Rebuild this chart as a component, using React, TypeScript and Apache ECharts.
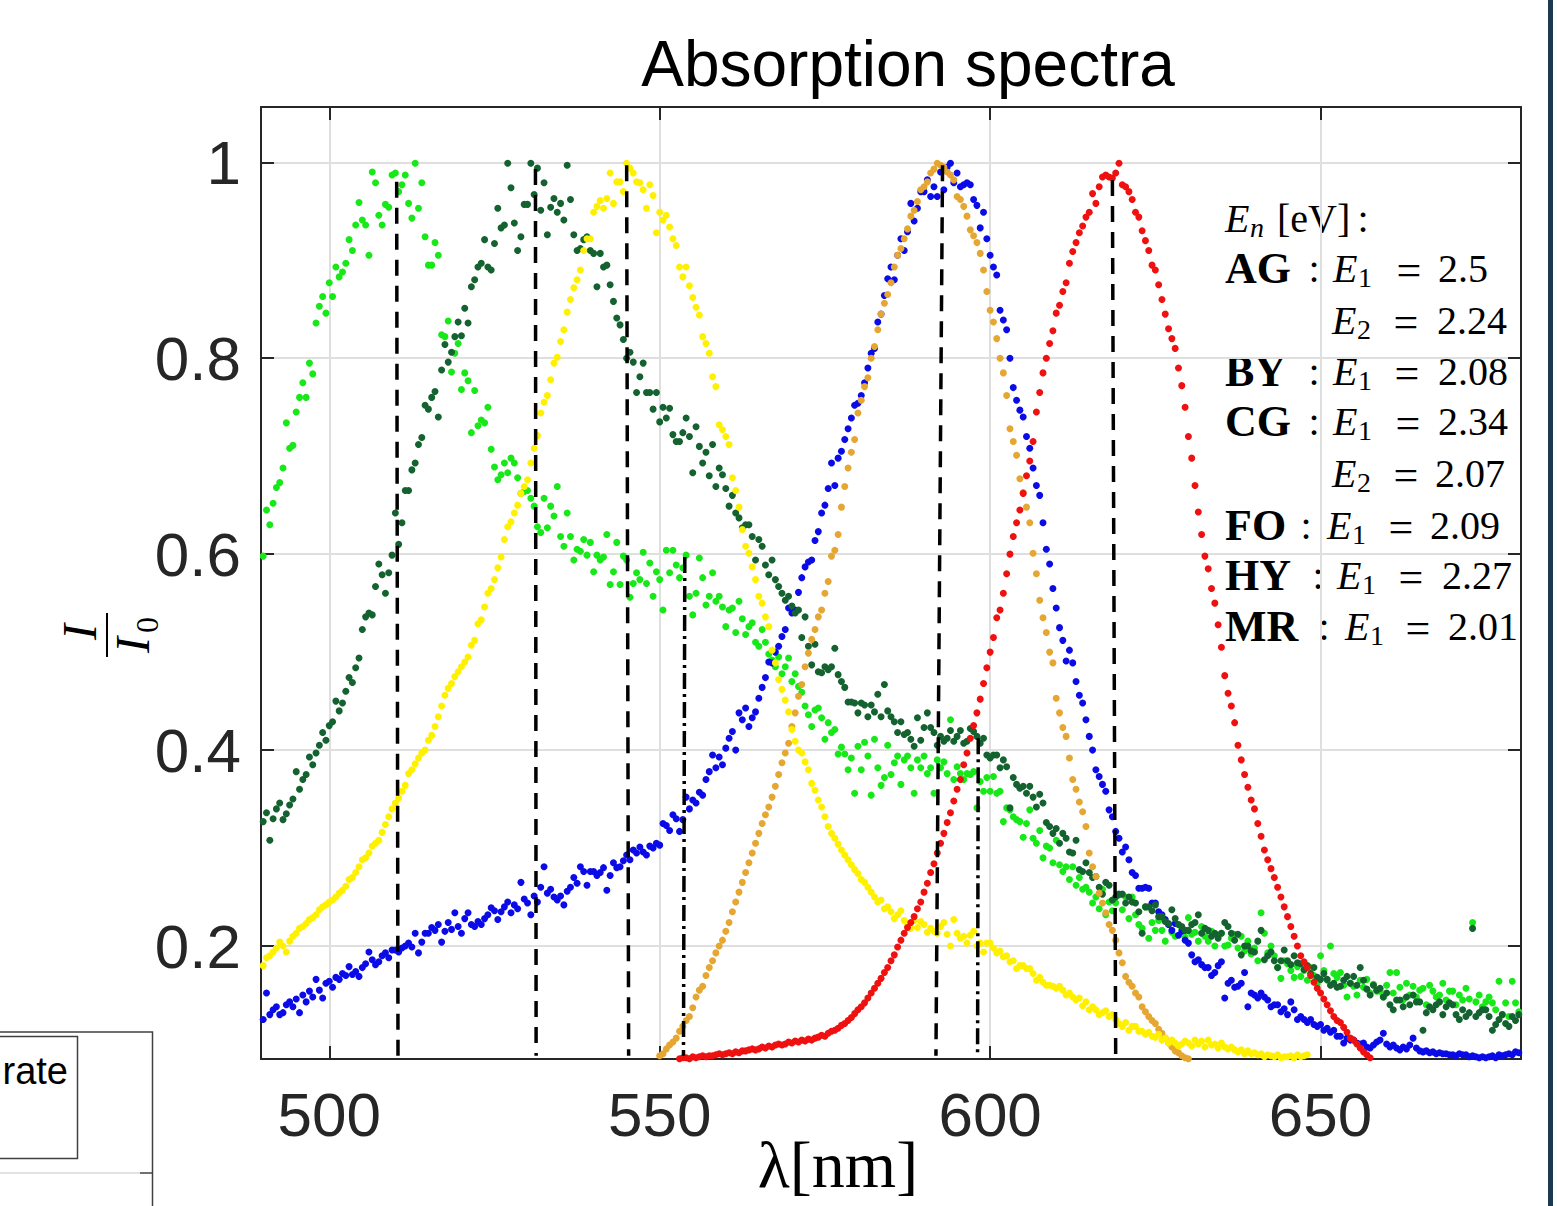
import React, { useEffect, useRef } from 'react';
import * as echarts from 'echarts';

// ---------------- data (wavelength step 0.5 nm) ----------------
const STEP = 0.5;

const AG_START = 490;
const AG = [
  0.598, 0.645, 0.63, 0.652, 0.668, 0.673, 0.688, 0.734, 0.708, 0.711,
  0.745, 0.76, 0.775, 0.76, 0.795, 0.784, 0.836, 0.853, 0.863, 0.846,
  0.877, 0.863, 0.893, 0.883, 0.888, 0.897, 0.921, 0.91, 0.936, 0.959,
  0.941, 0.936, 0.905, 0.99, 0.979, 0.946, 0.936, 0.957, 0.954, 0.987,
  0.989, 0.97, 0.977, 0.987, 0.958, 0.943, 0.999, 0.953, 0.979, 0.924,
  0.895, 0.895, 0.918, 0.905, 0.824, 0.822, 0.838, 0.786, 0.805, 0.815,
  0.768, 0.785, 0.777, 0.724, 0.767, 0.731, 0.737, 0.734, 0.75, 0.707,
  0.689, 0.676, 0.681, 0.693, 0.683, 0.698, 0.693, 0.678, 0.662, 0.664,
  0.665, 0.657, 0.649, 0.628, 0.622, 0.657, 0.627, 0.649, 0.639, 0.669,
  0.618, 0.608, 0.642, 0.618, 0.594, 0.605, 0.603, 0.615, 0.599, 0.612,
  0.582, 0.599, 0.594, 0.597, 0.62, 0.569, 0.582, 0.612, 0.569, 0.598,
  0.594, 0.556, 0.57, 0.581, 0.574, 0.602, 0.57, 0.591, 0.557, 0.582,
  0.574, 0.543, 0.604, 0.581, 0.604, 0.589, 0.576, 0.586, 0.599, 0.557,
  0.538, 0.56, 0.596, 0.576, 0.548, 0.557, 0.581, 0.552, 0.557, 0.546,
  0.526, 0.543, 0.545, 0.52, 0.552, 0.534, 0.518, 0.526, 0.53, 0.51,
  0.506, 0.523, 0.51, 0.498, 0.492, 0.485, 0.495, 0.478, 0.485, 0.494,
  0.47, 0.478, 0.465, 0.459, 0.445, 0.436, 0.424, 0.441, 0.443, 0.433,
  0.411, 0.428, 0.418, 0.421, 0.396, 0.403, 0.396, 0.38, 0.392, 0.356,
  0.404, 0.38, 0.408, 0.394, 0.354, 0.411, 0.382, 0.364, 0.372, 0.405,
  0.375, 0.387, 0.394, 0.365, 0.39, 0.394, 0.382, 0.356, 0.39, 0.382,
  0.394, 0.376, 0.382, 0.356, 0.39, 0.382, 0.388, 0.376, 0.431, 0.37,
  0.383, 0.376, 0.37, 0.376, 0.375, 0.378, 0.341, 0.368, 0.358, 0.372,
  0.358, 0.373, 0.356, 0.358, 0.327, 0.341, 0.339, 0.332, 0.329, 0.327,
  0.311, 0.325, 0.339, 0.31, 0.305, 0.318, 0.29, 0.302, 0.3, 0.285,
  0.308, 0.283, 0.276, 0.281, 0.268, 0.281, 0.262, 0.27, 0.258, 0.26,
  0.255, 0.244, 0.25, 0.238, 0.258, 0.232, 0.245, 0.236, 0.244, 0.252,
  0.237, 0.25, 0.228, 0.25, 0.232, 0.222, 0.218, 0.24, 0.208, 0.224,
  0.216, 0.226, 0.216, 0.205, 0.222, 0.214, 0.21, 0.222, 0.218, 0.209,
  0.229, 0.212, 0.214, 0.205, 0.22, 0.21, 0.205, 0.215, 0.2, 0.21,
  0.213, 0.2, 0.201, 0.208, 0.212, 0.198, 0.21, 0.195, 0.205, 0.192,
  0.198, 0.185, 0.234, 0.213, 0.193, 0.2, 0.19, 0.178, 0.167, 0.185,
  0.182, 0.175, 0.168, 0.179, 0.169, 0.175, 0.165, 0.178, 0.17, 0.162,
  0.19, 0.175, 0.165, 0.2, 0.172, 0.168, 0.173, 0.16, 0.148, 0.162,
  0.159, 0.15, 0.165, 0.158, 0.166, 0.152, 0.161, 0.154, 0.154, 0.148,
  0.16, 0.173, 0.152, 0.173, 0.158, 0.145, 0.162, 0.15, 0.159, 0.148,
  0.155, 0.157, 0.14, 0.16, 0.154, 0.148, 0.15, 0.162, 0.145, 0.154,
  0.154, 0.14, 0.15, 0.145, 0.157, 0.146, 0.224, 0.143, 0.15, 0.138,
  0.143, 0.148, 0.142, 0.135, 0.164, 0.13, 0.142, 0.128, 0.164, 0.142,
  0.133,
];

const BY_START = 490;
const BY = [
  0.125, 0.152, 0.13, 0.135, 0.138, 0.13, 0.132, 0.14, 0.143, 0.138,
  0.146, 0.132, 0.15, 0.143, 0.154, 0.148, 0.166, 0.155, 0.147, 0.162,
  0.164, 0.158, 0.168, 0.166, 0.172, 0.17, 0.179, 0.171, 0.174, 0.169,
  0.178, 0.182, 0.194, 0.186, 0.181, 0.184, 0.19, 0.193, 0.188, 0.196,
  0.196, 0.194, 0.198, 0.2, 0.203, 0.199, 0.213, 0.193, 0.204, 0.213,
  0.213, 0.219, 0.216, 0.222, 0.204, 0.215, 0.224, 0.217, 0.234, 0.22,
  0.213, 0.228, 0.234, 0.222, 0.22, 0.225, 0.222, 0.228, 0.232, 0.239,
  0.236, 0.227, 0.235, 0.24, 0.245, 0.234, 0.242, 0.238, 0.265, 0.248,
  0.244, 0.232, 0.251, 0.245, 0.26, 0.281, 0.254, 0.258, 0.25, 0.247,
  0.251, 0.242, 0.256, 0.26, 0.27, 0.264, 0.281, 0.276, 0.262, 0.276,
  0.276, 0.272, 0.275, 0.28, 0.257, 0.272, 0.285, 0.28, 0.281, 0.287,
  0.293, 0.288, 0.298, 0.295, 0.301, 0.296, 0.293, 0.302, 0.3, 0.305,
  0.303, 0.325, 0.323, 0.318, 0.334, 0.33, 0.317, 0.329, 0.352, 0.34,
  0.349, 0.346, 0.357, 0.354, 0.37, 0.378, 0.395, 0.382, 0.393, 0.385,
  0.402, 0.412, 0.419, 0.4, 0.438, 0.431, 0.443, 0.424, 0.433, 0.439,
  0.453, 0.464, 0.474, 0.49, 0.489, 0.5, 0.506, 0.516, 0.523, 0.545,
  0.54, 0.543, 0.561, 0.576, 0.587, 0.592, 0.594, 0.614, 0.623, 0.642,
  0.65, 0.667, 0.693, 0.67, 0.698, 0.705, 0.717, 0.728, 0.739, 0.752,
  0.754, 0.762, 0.775, 0.79, 0.805, 0.81, 0.837, 0.845, 0.864, 0.881,
  0.893, 0.88, 0.905, 0.922, 0.91, 0.929, 0.958, 0.94, 0.953, 0.97,
  0.97, 0.982, 0.965, 0.975, 0.965, 0.99, 0.972, 0.995, 0.999, 0.979,
  0.989, 0.975, 0.977, 0.979, 0.977, 0.962, 0.956, 0.933, 0.949, 0.922,
  0.905, 0.893, 0.885, 0.849, 0.839, 0.829, 0.8, 0.77, 0.757, 0.747,
  0.74, 0.72, 0.708, 0.688, 0.67, 0.66, 0.632, 0.605, 0.59, 0.565,
  0.545, 0.525, 0.512, 0.491, 0.502, 0.489, 0.47, 0.456, 0.448, 0.431,
  0.414, 0.4, 0.38, 0.373, 0.365, 0.358, 0.339, 0.332, 0.317, 0.31,
  0.296, 0.301, 0.288, 0.275, 0.272, 0.259, 0.259, 0.26, 0.259, 0.244,
  0.244, 0.235, 0.232, 0.227, 0.222, 0.216, 0.223, 0.211, 0.215, 0.206,
  0.203, 0.191, 0.184, 0.186, 0.181, 0.178, 0.178, 0.17, 0.173, 0.18,
  0.184, 0.147, 0.162, 0.165, 0.158, 0.159, 0.162, 0.173, 0.138, 0.152,
  0.15, 0.147, 0.152, 0.148, 0.145, 0.138, 0.14, 0.14, 0.133, 0.136,
  0.13, 0.143, 0.135, 0.125, 0.128, 0.125, 0.122, 0.125, 0.12, 0.118,
  0.12, 0.114, 0.116, 0.112, 0.114, 0.108, 0.108, 0.101, 0.106, 0.104,
  0.104, 0.101, 0.1, 0.101, 0.097, 0.096, 0.099, 0.102, 0.104, 0.111,
  0.1, 0.097, 0.099, 0.096, 0.094, 0.097, 0.095, 0.099, 0.106, 0.096,
  0.093, 0.092, 0.093, 0.091, 0.092, 0.09, 0.091, 0.09, 0.09, 0.089,
  0.089, 0.088, 0.09, 0.089, 0.089, 0.087, 0.088, 0.087, 0.086, 0.087,
  0.086, 0.087, 0.088, 0.086, 0.089, 0.088, 0.089, 0.09, 0.089, 0.092,
  0.091,
];

const CG_START = 490;
const CG = [
  0.327, 0.336, 0.308, 0.33, 0.34, 0.346, 0.329, 0.335, 0.344, 0.35,
  0.378, 0.36, 0.37, 0.375, 0.393, 0.385, 0.397, 0.405, 0.418, 0.41,
  0.425, 0.429, 0.45, 0.44, 0.448, 0.46, 0.474, 0.469, 0.484, 0.494,
  0.523, 0.536, 0.54, 0.538, 0.567, 0.59, 0.579, 0.56, 0.581, 0.599,
  0.642, 0.61, 0.632, 0.665, 0.665, 0.686, 0.693, 0.712, 0.719, 0.752,
  0.748, 0.76, 0.766, 0.74, 0.788, 0.814, 0.796, 0.806, 0.822, 0.837,
  0.823, 0.851, 0.836, 0.873, 0.88, 0.893, 0.897, 0.921, 0.893, 0.89,
  0.917, 0.953, 0.933, 0.936, 0.999, 0.974, 0.938, 0.91, 0.924, 0.957,
  0.957, 0.999, 0.967, 0.994, 0.951, 0.979, 0.926, 0.954, 0.963, 0.949,
  0.958, 0.941, 0.997, 0.962, 0.926, 0.91, 0.912, 0.921, 0.924, 0.91,
  0.907, 0.873, 0.907, 0.893, 0.895, 0.875, 0.858, 0.841, 0.834, 0.819,
  0.8, 0.806, 0.796, 0.765, 0.781, 0.795, 0.765, 0.765, 0.748, 0.765,
  0.735, 0.75, 0.739, 0.749, 0.722, 0.715, 0.715, 0.724, 0.739, 0.72,
  0.683, 0.73, 0.71, 0.693, 0.704, 0.68, 0.712, 0.669, 0.688, 0.681,
  0.667, 0.649, 0.66, 0.642, 0.637, 0.627, 0.63, 0.63, 0.618, 0.594,
  0.615, 0.608, 0.589, 0.579, 0.594, 0.574, 0.567, 0.56, 0.553, 0.557,
  0.547, 0.54, 0.543, 0.515, 0.536, 0.506, 0.487, 0.508, 0.48, 0.479,
  0.485, 0.482, 0.485, 0.504, 0.477, 0.47, 0.464, 0.449, 0.449, 0.448,
  0.438, 0.448, 0.446, 0.434, 0.446, 0.439, 0.457, 0.434, 0.467, 0.44,
  0.434, 0.429, 0.418, 0.429, 0.416, 0.418, 0.411, 0.404, 0.433, 0.41,
  0.423, 0.438, 0.423, 0.418, 0.405, 0.414, 0.409, 0.412, 0.42, 0.409,
  0.414, 0.42, 0.407, 0.409, 0.422, 0.419, 0.414, 0.407, 0.412, 0.395,
  0.392, 0.395, 0.395, 0.382, 0.39, 0.383, 0.341, 0.372, 0.365, 0.361,
  0.363, 0.356, 0.363, 0.352, 0.342, 0.355, 0.346, 0.326, 0.322, 0.315,
  0.32, 0.305, 0.315, 0.31, 0.296, 0.295, 0.308, 0.278, 0.276, 0.285,
  0.275, 0.27, 0.271, 0.26, 0.253, 0.265, 0.262, 0.247, 0.25, 0.253,
  0.253, 0.244, 0.25, 0.245, 0.244, 0.235, 0.213, 0.24, 0.24, 0.236,
  0.242, 0.23, 0.23, 0.225, 0.223, 0.237, 0.228, 0.222, 0.22, 0.216,
  0.216, 0.222, 0.224, 0.232, 0.213, 0.218, 0.216, 0.21, 0.213, 0.208,
  0.213, 0.224, 0.22, 0.213, 0.206, 0.212, 0.191, 0.2, 0.2, 0.195,
  0.194, 0.205, 0.216, 0.186, 0.19, 0.194, 0.185, 0.178, 0.185, 0.196,
  0.185, 0.181, 0.19, 0.183, 0.182, 0.176, 0.18, 0.172, 0.178, 0.168,
  0.166, 0.172, 0.166, 0.16, 0.162, 0.158, 0.159, 0.165, 0.169, 0.162,
  0.169, 0.16, 0.178, 0.165, 0.156, 0.15, 0.16, 0.155, 0.157, 0.148,
  0.152, 0.14, 0.135, 0.145, 0.145, 0.138, 0.148, 0.14, 0.15, 0.143,
  0.143, 0.114, 0.132, 0.138, 0.135, 0.14, 0.143, 0.13, 0.138, 0.142,
  0.14, 0.13, 0.125, 0.135, 0.128, 0.132, 0.218, 0.128, 0.132, 0.135,
  0.135, 0.128, 0.114, 0.12, 0.125, 0.13, 0.121, 0.118, 0.128, 0.124,
  0.13,
];

const FO_START = 550;
const FO = [
  0.088, 0.09, 0.095, 0.099, 0.102, 0.106, 0.113, 0.118, 0.124, 0.128,
  0.137, 0.148, 0.155, 0.159, 0.17, 0.178, 0.185, 0.193, 0.2, 0.206,
  0.215, 0.224, 0.235, 0.245, 0.255, 0.265, 0.275, 0.285, 0.295, 0.305,
  0.315, 0.325, 0.334, 0.342, 0.352, 0.363, 0.375, 0.387, 0.397, 0.407,
  0.424, 0.438, 0.455, 0.467, 0.485, 0.499, 0.513, 0.523, 0.536, 0.543,
  0.56, 0.572, 0.598, 0.604, 0.62, 0.648, 0.669, 0.688, 0.704, 0.717,
  0.744, 0.757, 0.771, 0.78, 0.8, 0.812, 0.829, 0.845, 0.856, 0.865,
  0.877, 0.893, 0.905, 0.912, 0.922, 0.932, 0.945, 0.951, 0.96, 0.972,
  0.975, 0.98, 0.989, 0.993, 0.999, 0.997, 0.995, 0.99, 0.987, 0.982,
  0.965, 0.962, 0.955, 0.945, 0.931, 0.925, 0.918, 0.907, 0.89, 0.868,
  0.849, 0.837, 0.82, 0.8, 0.785, 0.762, 0.728, 0.715, 0.701, 0.677,
  0.663, 0.648, 0.632, 0.601, 0.58, 0.553, 0.535, 0.52, 0.5, 0.489,
  0.453, 0.438, 0.423, 0.414, 0.392, 0.37, 0.36, 0.347, 0.337, 0.322,
  0.295, 0.281, 0.271, 0.254, 0.244, 0.234, 0.222, 0.216, 0.206, 0.193,
  0.183, 0.169, 0.163, 0.159, 0.152, 0.148, 0.138, 0.133, 0.128, 0.124,
  0.121, 0.115, 0.111, 0.106, 0.101, 0.097, 0.093, 0.091, 0.088, 0.086,
  0.085,
];

const HY_START = 490;
const HY = [
  0.18, 0.188, 0.19, 0.194, 0.198, 0.204, 0.2, 0.194, 0.205, 0.21,
  0.213, 0.218, 0.22, 0.223, 0.227, 0.229, 0.232, 0.237, 0.24, 0.242,
  0.245, 0.247, 0.25, 0.254, 0.257, 0.261, 0.268, 0.27, 0.275, 0.281,
  0.288, 0.29, 0.295, 0.302, 0.305, 0.308, 0.316, 0.324, 0.332, 0.34,
  0.346, 0.351, 0.358, 0.364, 0.376, 0.38, 0.386, 0.392, 0.397, 0.4,
  0.41, 0.415, 0.424, 0.434, 0.445, 0.456, 0.463, 0.468, 0.475, 0.48,
  0.485, 0.49, 0.495, 0.507, 0.512, 0.529, 0.533, 0.546, 0.56, 0.565,
  0.574, 0.586, 0.597, 0.615, 0.628, 0.633, 0.642, 0.65, 0.662, 0.669,
  0.676, 0.693, 0.708, 0.721, 0.744, 0.755, 0.762, 0.778, 0.795, 0.801,
  0.817, 0.829, 0.847, 0.86, 0.872, 0.88, 0.89, 0.91, 0.922, 0.922,
  0.949, 0.955, 0.961, 0.953, 0.963, 0.989, 0.958, 0.98, 0.98, 0.97,
  0.999, 0.994, 0.989, 0.98, 0.979, 0.972, 0.953, 0.977, 0.966, 0.928,
  0.949, 0.941, 0.946, 0.934, 0.922, 0.915, 0.893, 0.883, 0.893, 0.874,
  0.862, 0.852, 0.844, 0.822, 0.815, 0.805, 0.781, 0.771, 0.732, 0.727,
  0.72, 0.712, 0.678, 0.665, 0.648, 0.625, 0.608, 0.601, 0.587, 0.574,
  0.557, 0.55, 0.536, 0.526, 0.502, 0.489, 0.472, 0.462, 0.451, 0.439,
  0.421, 0.409, 0.4, 0.397, 0.388, 0.38, 0.366, 0.359, 0.349, 0.342,
  0.332, 0.322, 0.315, 0.31, 0.304, 0.298, 0.293, 0.288, 0.283, 0.278,
  0.274, 0.268, 0.265, 0.26, 0.255, 0.25, 0.245, 0.247, 0.238, 0.24,
  0.235, 0.228, 0.232, 0.236, 0.226, 0.222, 0.218, 0.226, 0.219, 0.225,
  0.222, 0.214, 0.218, 0.215, 0.213, 0.22, 0.224, 0.212, 0.2, 0.227,
  0.213, 0.208, 0.21, 0.203, 0.211, 0.215, 0.2, 0.203, 0.194, 0.203,
  0.203, 0.198, 0.193, 0.195, 0.189, 0.19, 0.184, 0.185, 0.177, 0.18,
  0.18, 0.177, 0.177, 0.172, 0.165, 0.168, 0.163, 0.16, 0.16, 0.159,
  0.157, 0.159, 0.155, 0.15, 0.152, 0.148, 0.145, 0.147, 0.139, 0.143,
  0.135, 0.138, 0.135, 0.13, 0.132, 0.134, 0.128, 0.13, 0.125, 0.121,
  0.118, 0.122, 0.114, 0.118, 0.118, 0.113, 0.113, 0.11, 0.112, 0.108,
  0.107, 0.11, 0.104, 0.106, 0.101, 0.104, 0.101, 0.098, 0.1, 0.103,
  0.101, 0.098, 0.104, 0.1, 0.103, 0.097, 0.104, 0.099, 0.1, 0.096,
  0.101, 0.097, 0.095, 0.097, 0.094, 0.092, 0.094, 0.09, 0.093, 0.09,
  0.091, 0.089, 0.09, 0.087, 0.089, 0.088, 0.087, 0.089, 0.086, 0.087,
  0.087, 0.088, 0.086, 0.089, 0.087, 0.088, 0.089,
];

const MR_START = 553;
const MR = [
  0.085, 0.086, 0.086, 0.085, 0.087, 0.086, 0.087, 0.088, 0.087, 0.088,
  0.088, 0.089, 0.09, 0.089, 0.09, 0.091, 0.09, 0.092, 0.091, 0.093,
  0.093, 0.094, 0.095, 0.094, 0.095, 0.097, 0.096, 0.098, 0.097, 0.099,
  0.1, 0.099, 0.1, 0.102, 0.101, 0.103, 0.102, 0.104, 0.103, 0.105,
  0.104, 0.106, 0.107, 0.109, 0.108, 0.111, 0.113, 0.114, 0.116, 0.119,
  0.121, 0.124, 0.127, 0.131, 0.135, 0.138, 0.142, 0.147, 0.152, 0.157,
  0.162, 0.167, 0.173, 0.178, 0.185, 0.191, 0.199, 0.206, 0.213, 0.219,
  0.224, 0.23, 0.238, 0.245, 0.255, 0.264, 0.275, 0.284, 0.295, 0.305,
  0.315, 0.326, 0.336, 0.348, 0.36, 0.37, 0.385, 0.397, 0.412, 0.425,
  0.438, 0.452, 0.468, 0.484, 0.5, 0.515, 0.535, 0.543, 0.56, 0.58,
  0.6, 0.618, 0.632, 0.645, 0.662, 0.68, 0.695, 0.715, 0.745, 0.765,
  0.785, 0.8, 0.815, 0.828, 0.846, 0.854, 0.868, 0.877, 0.897, 0.909,
  0.918, 0.928, 0.935, 0.944, 0.949, 0.968, 0.958, 0.975, 0.985, 0.987,
  0.985, 0.984, 0.989, 0.999, 0.977, 0.975, 0.97, 0.962, 0.949, 0.944,
  0.93, 0.92, 0.91, 0.895, 0.89, 0.875, 0.86, 0.845, 0.83, 0.82,
  0.81, 0.79, 0.772, 0.75, 0.72, 0.698, 0.67, 0.643, 0.62, 0.598,
  0.585, 0.565, 0.55, 0.528, 0.505, 0.476, 0.458, 0.445, 0.428, 0.405,
  0.39, 0.375, 0.362, 0.349, 0.34, 0.325, 0.312, 0.298, 0.288, 0.279,
  0.27, 0.26, 0.25, 0.24, 0.23, 0.22, 0.21, 0.2, 0.19, 0.184,
  0.178, 0.17, 0.163, 0.157, 0.152, 0.146, 0.14, 0.134, 0.128, 0.124,
  0.122, 0.117, 0.112, 0.106, 0.104, 0.1, 0.096, 0.092, 0.089, 0.086,
  0.084, 0.083, 0.082, 0.081, 0.08,
];

// vertical marker lines: wavelength at top / bottom, top value, style
const PEAK_X_TOP = [510.2, 531.2, 545.0, 553.8, 592.8, 598.2, 618.5];
const PEAK_X_BOTTOM = [510.4, 531.3, 545.3, 553.6, 591.8, 598.1, 619.0];
const PEAK_Y_TOP = [0.98, 0.993, 0.997, 0.597, 0.997, 0.412, 0.982];
const PEAK_STYLE = ['dash', 'dash', 'dash', 'dashdot', 'dash', 'dashdot', 'dash'];
const PEAK_Y_BOTTOM = 0.088;

// annotation text
const COMPOUNDS = ['AG', '', 'BY', 'CG', '', 'FO', 'HY', 'MR'];
const LEVELS = ['1', '2', '1', '1', '2', '1', '1', '1'];
const ENERGIES = ['2.5', '2.24', '2.08', '2.34', '2.07', '2.09', '2.27', '2.01'];

const X_TICKS = [500, 550, 600, 650];
const Y_TICKS = [0.2, 0.4, 0.6, 0.8, 1];

// ---------------- layout / style ----------------
const X_MIN = 489.67;
const X_MAX = 680.33;
const Y_MIN = 0.0847;
const Y_MAX = 1.0564;

const SANS = '"Liberation Sans", Arial, sans-serif';
const SERIF = '"Liberation Serif", "Times New Roman", serif';
const AXIS_COLOR = '#262626';
const GRID_COLOR = '#dfdfdf';

const SERIES_STYLE = [
  { name: 'AG', start: AG_START, values: AG, color: '#17e817' },
  { name: 'BY', start: BY_START, values: BY, color: '#0b0be8' },
  { name: 'CG', start: CG_START, values: CG, color: '#13622f' },
  { name: 'FO', start: FO_START, values: FO, color: '#e6a632' },
  { name: 'HY', start: HY_START, values: HY, color: '#fff000' },
  { name: 'MR', start: MR_START, values: MR, color: '#ef1010' },
];

const ANNOT_LAYOUT = [
  { y: 268, colon: 1314, e: 1333, eq: 1409, v: 1438 },
  { y: 320, colon: 0, e: 1332, eq: 1406, v: 1437 },
  { y: 371, colon: 1314, e: 1333, eq: 1407, v: 1438 },
  { y: 421, colon: 1314, e: 1333, eq: 1408, v: 1438 },
  { y: 473, colon: 0, e: 1332, eq: 1406, v: 1435 },
  { y: 525, colon: 1306, e: 1327, eq: 1401, v: 1430 },
  { y: 575, colon: 1318, e: 1337, eq: 1411, v: 1442 },
  { y: 626, colon: 1324, e: 1345, eq: 1418, v: 1448 },
];

function txt(x: number, y: number, text: string, font: string, align = 'left', fill = '#000') {
  return {
    type: 'text',
    x,
    y,
    silent: true,
    style: { text, font, textAlign: align, textVerticalAlign: 'middle', fill },
  };
}

function buildGraphic() {
  const g: any[] = [];
  // title
  g.push(txt(908, 64, 'Absorption spectra', `64px ${SANS}`, 'center', '#000'));
  // x axis name
  g.push(txt(838, 1164, 'λ[nm]', `66px ${SERIF}`, 'center', '#000'));
  // y axis name: I / I0, rotated
  g.push({
    type: 'group',
    x: 107,
    y: 635,
    rotation: Math.PI / 2,
    silent: true,
    children: [
      txt(3, -28, 'I', `italic 48px ${SERIF}`, 'center', '#000'),
      { type: 'line', shape: { x1: -22, y1: 0, x2: 22, y2: 0 }, style: { stroke: '#000', lineWidth: 2 } },
      txt(-10, 25, 'I', `italic 48px ${SERIF}`, 'center', '#000'),
      txt(10, 40, '0', `32px ${SERIF}`, 'center', '#000'),
    ],
  });
  // annotation header
  g.push(txt(1225, 218, 'E', `italic 40px ${SERIF}`));
  g.push(txt(1250, 227, 'n', `italic 28px ${SERIF}`));
  g.push(txt(1277, 218, '[eV]', `40px ${SERIF}`));
  g.push(txt(1363, 218, ':', `40px ${SERIF}`, 'center'));
  ANNOT_LAYOUT.forEach((l, i) => {
    if (COMPOUNDS[i]) {
      g.push(txt(1225, l.y, COMPOUNDS[i], `bold 44px ${SERIF}`));
      g.push(txt(l.colon, l.y, ':', `40px ${SERIF}`, 'center'));
    }
    g.push(txt(l.e, l.y, 'E', `italic 40px ${SERIF}`));
    g.push(txt(l.e + 25, l.y + 9, LEVELS[i], `28px ${SERIF}`));
    g.push(txt(l.eq, l.y + 2, '=', `44px ${SERIF}`, 'center'));
    g.push(txt(l.v, l.y, ENERGIES[i], `40px ${SERIF}`));
  });
  // cropped neighbouring panel at bottom-left
  g.push({ type: 'rect', silent: true, shape: { x: -10, y: 1032, width: 162.5, height: 200 }, style: { fill: '#fff', stroke: '#404040', lineWidth: 1.5 } });
  g.push({ type: 'line', silent: true, shape: { x1: 0, y1: 1173, x2: 140, y2: 1173 }, style: { stroke: '#e2e2e2', lineWidth: 2 } });
  g.push({ type: 'line', silent: true, shape: { x1: 140, y1: 1173, x2: 152, y2: 1173 }, style: { stroke: '#404040', lineWidth: 1.5 } });
  g.push({ type: 'rect', silent: true, shape: { x: -10, y: 1036.5, width: 87.5, height: 122 }, style: { fill: '#fff', stroke: '#404040', lineWidth: 1.5 } });
  g.push(txt(68, 1071, 'rate', `38px ${SANS}`, 'right', '#000'));
  // dark strip on the right edge
  g.push({ type: 'rect', silent: true, shape: { x: 1548, y: 0, width: 5, height: 1206 }, style: { fill: '#1b3a52' } });
  return g;
}

function buildOption() {
  const scatter = SERIES_STYLE.map((s) => ({
    type: 'scatter',
    name: s.name,
    data: s.values.map((v, i) => [s.start + i * STEP, v]),
    symbol: 'circle',
    symbolSize: 7,
    itemStyle: { color: s.color, opacity: 1 },
    silent: true,
    z: 2,
  }));
  const lines = PEAK_X_TOP.map((xt, i) => ({
    type: 'line',
    data: [
      [xt, PEAK_Y_TOP[i]],
      [PEAK_X_BOTTOM[i], PEAK_Y_BOTTOM],
    ],
    symbol: 'none',
    silent: true,
    z: 4,
    lineStyle: {
      color: '#000',
      width: 3.5,
      type: PEAK_STYLE[i] === 'dash' ? [16, 10] : [16, 5, 3, 5],
    },
  }));

  const axisLine = { show: true, onZero: false, lineStyle: { color: AXIS_COLOR, width: 2 } };
  const axisTick = { show: true, inside: true, length: 13, lineStyle: { color: AXIS_COLOR, width: 2 } };

  return {
    animation: false,
    backgroundColor: '#fff',
    grid: { left: 261, top: 107, width: 1260, height: 952, containLabel: false },
    xAxis: [
      {
        type: 'value',
        min: X_MIN,
        max: X_MAX,
        splitNumber: 4,
        position: 'bottom',
        axisLine,
        axisTick,
        axisLabel: {
          margin: 24,
          fontSize: 62,
          fontFamily: SANS,
          color: AXIS_COLOR,
          formatter: (v: number) => (X_TICKS.some((t) => Math.abs(t - v) < 1e-6) ? String(Math.round(v)) : ''),
        },
        splitLine: { show: true, lineStyle: { color: GRID_COLOR, width: 2 } },
      },
      {
        type: 'value',
        min: X_MIN,
        max: X_MAX,
        splitNumber: 4,
        position: 'top',
        axisLine,
        axisTick,
        axisLabel: { show: false },
        splitLine: { show: false },
      },
    ],
    yAxis: [
      {
        type: 'value',
        min: Y_MIN,
        max: Y_MAX,
        splitNumber: 5,
        position: 'left',
        axisLine,
        axisTick,
        axisLabel: {
          margin: 20,
          fontSize: 62,
          fontFamily: SANS,
          color: AXIS_COLOR,
          formatter: (v: number) =>
            Y_TICKS.some((t) => Math.abs(t - v) < 1e-6) ? String(Number(v.toFixed(1))) : '',
        },
        splitLine: { show: true, lineStyle: { color: GRID_COLOR, width: 2 } },
      },
      {
        type: 'value',
        min: Y_MIN,
        max: Y_MAX,
        splitNumber: 5,
        position: 'right',
        axisLine,
        axisTick,
        axisLabel: { show: false },
        splitLine: { show: false },
      },
    ],
    series: [...scatter, ...lines],
    graphic: buildGraphic(),
  };
}

export default function App() {
  const ref = useRef<HTMLDivElement>(null);
  useEffect(() => {
    if (!ref.current) return;
    const chart = echarts.init(ref.current, undefined, { renderer: 'svg' });
    chart.setOption(buildOption() as any);
    return () => chart.dispose();
  }, []);
  return (
    <div
      ref={ref}
      style={{ position: 'fixed', left: 0, top: 0, width: 1557, height: 1206, background: '#fff' }}
    />
  );
}
